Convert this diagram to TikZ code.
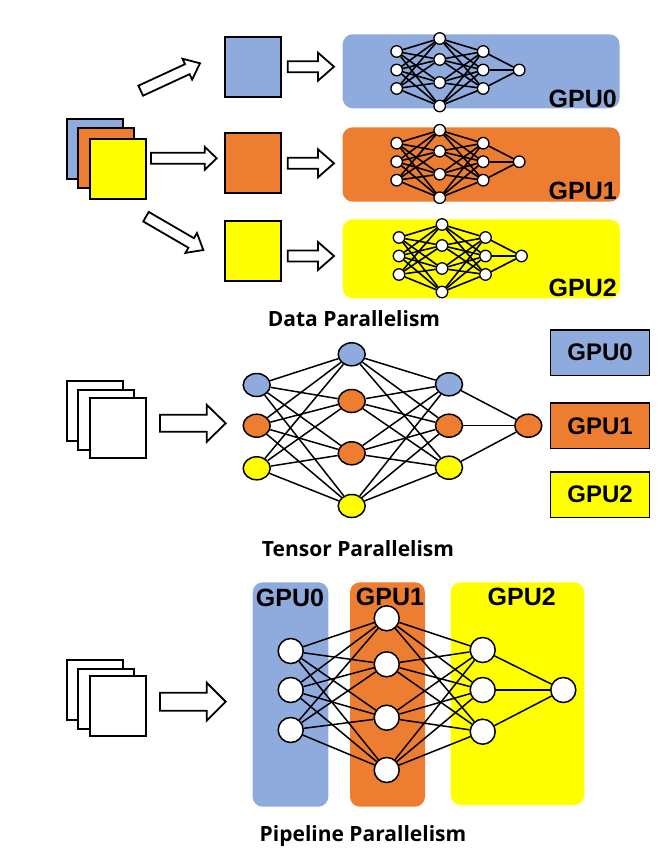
\documentclass[tikz,border=0pt]{standalone}
\usepackage{fontspec}
\setmainfont{Liberation Sans}
\newfontfamily\titlefont{Open Sans}
\usetikzlibrary{calc,shapes.geometric}
\definecolor{gblue}{HTML}{8FAADC}
\definecolor{gorange}{HTML}{ED7D31}
\definecolor{gyellow}{HTML}{FFFF00}
\pgfdeclarelayer{back}
\pgfdeclarelayer{mid}
\pgfsetlayers{back,mid,main}
% #1 tail, #2 tip, #3 shaft half width, #4 head half width, #5 head length
\newcommand\blockarrow[5]{%
  \coordinate (ba-neck) at ($(#2)!#5!(#1)$);
  \draw[barrow] ($(#1)!#3!90:(#2)$) -- ($(ba-neck)!#3!90:(#2)$) -- ($(ba-neck)!#4!90:(#2)$)
    -- (#2) -- ($(ba-neck)!#4!-90:(#2)$) -- ($(ba-neck)!#3!-90:(#2)$) -- ($(#1)!#3!-90:(#2)$) -- cycle;
}
\tikzset{
  sq/.style={draw, line width=2pt, minimum width=56pt, minimum height=60pt, inner sep=0pt},
  gbox/.style={rounded corners=10pt, inner sep=0pt},
  tiny/.style={circle, draw, fill=white, line width=1.3pt, minimum size=11.5pt, inner sep=0pt},
  edge/.style={line width=1.6pt},
  tedge/.style={line width=1.5pt},
  tnode/.style={ellipse, draw, line width=1.5pt, minimum width=27pt, minimum height=23pt, inner sep=0pt},
  pnode/.style={circle, draw, fill=white, line width=1.5pt, minimum size=25pt, inner sep=0pt},
  gpulabel/.style={font=\bfseries\fontsize{25}{25}\selectfont, inner sep=0pt},
  legendbox/.style={draw, line width=1.5pt, minimum width=98.6pt, minimum height=45.5pt, inner sep=0pt, font=\bfseries\fontsize{24}{24}\selectfont},
  title/.style={font=\titlefont\bfseries\fontsize{21}{21}\selectfont, inner sep=0pt, anchor=base},
  barrow/.style={draw, fill=white, line width=1.8pt, line join=miter}
}
\begin{document}
\begin{tikzpicture}[x=1pt,y=-1pt]
\useasboundingbox (0,0) rectangle (668,857);

%% ===================== Data parallelism =====================
% stacked input squares
\node[sq, fill=gblue] (ds0) at (95.3,148.5) {};
\node[sq, fill=gorange] (ds1) at (105.5,157.5) {};
\node[sq, fill=gyellow] (ds2) at (118.3,169.3) {};
% split squares
\node[sq, fill=gblue] (q0) at (252.5,67.2) {};
\node[sq, fill=gorange] (q1) at (252.5,162.5) {};
\node[sq, fill=gyellow] (q2) at (252.5,251.4) {};
% block arrows
\coordinate (a1t) at (140.7,90.7);  \coordinate (a1h) at (200,63.3);
\coordinate (a2t) at (151,158.3);   \coordinate (a2h) at (216.7,158.3);
\coordinate (a3t) at (146,216.7);   \coordinate (a3h) at (203.3,250);
\blockarrow{a1t}{a1h}{5.5pt}{11.5pt}{14pt}
\blockarrow{a2t}{a2h}{5.5pt}{11.5pt}{12pt}
\blockarrow{a3t}{a3h}{5.5pt}{11.5pt}{14pt}
\foreach \k/\y in {0/66.7,1/163.3,2/256}{
  \coordinate (r\k t) at (287.7,\y); \coordinate (r\k h) at (334,\y);
  \blockarrow{r\k t}{r\k h}{5.5pt}{14pt}{16pt}
}
% GPU boxes
\begin{pgfonlayer}{back}
\node[gbox, fill=gblue, minimum width=276.8pt, minimum height=74pt] (box0) at (481.1,71.3) {};
\node[gbox, fill=gorange, minimum width=277.3pt, minimum height=74.4pt] (box1) at (481.3,164.5) {};
\node[gbox, fill=gyellow, minimum width=277.3pt, minimum height=79pt] (box2) at (481.3,258.8) {};
\end{pgfonlayer}
\node[gpulabel, anchor=base east] (l0) at (617,107) {GPU0};
\node[gpulabel, anchor=base east] (l1) at (617,199.5) {GPU1};
\node[gpulabel, anchor=base east] (l2) at (617,296) {GPU2};
% small networks
\foreach \k/\ox/\oy in {0/396.7/70,1/396.7/161.7,2/399/256}{
  \begin{scope}[shift={(\ox,\oy)}]
    \foreach \i/\dy in {1/-18.5,2/0,3/18.5} \node[tiny] (a\k\i) at (0,\dy) {};
    \foreach \i/\dy in {1/-31.5,2/-10.5,3/12.5,4/36} \node[tiny] (b\k\i) at (43,\dy) {};
    \foreach \i/\dy in {1/-18.5,2/0,3/18.5} \node[tiny] (c\k\i) at (86.5,\dy) {};
    \node[tiny] (d\k) at (122.5,0) {};
  \end{scope}
  \begin{pgfonlayer}{mid}
    \foreach \i in {1,2,3}{
      \foreach \j in {1,2,3,4}{
        \draw[edge] (a\k\i) -- (b\k\j);
        \draw[edge] (b\k\j) -- (c\k\i);
      }
      \draw[edge] (c\k\i) -- (d\k);
    }
  \end{pgfonlayer}
}
\node[title] (t-data) at (354,326.7) {Data Parallelism};

%% ===================== Tensor parallelism =====================
\node[sq, fill=white] (ts0) at (95.3,411.4) {};
\node[sq, fill=white] (ts1) at (105.5,420) {};
\node[sq, fill=white] (ts2) at (117.9,428) {};
\coordinate (tat) at (160,423.3); \coordinate (tah) at (225.7,423.3);
\blockarrow{tat}{tah}{8.5pt}{18.5pt}{19pt}
\foreach \i/\y/\c in {1/385/gblue,2/425.7/gorange,3/468.3/gyellow}
  \node[tnode, fill=\c] (t1\i) at (256.7,\y) {};
\foreach \i/\y/\c in {1/354.3/gblue,2/401/gorange,3/453.3/gorange,4/506/gyellow}
  \node[tnode, fill=\c] (t2\i) at (351.7,\y) {};
\foreach \i/\y/\c in {1/384.3/gblue,2/425.7/gorange,3/467.7/gyellow}
  \node[tnode, fill=\c] (t3\i) at (449,\y) {};
\node[tnode, fill=gorange] (tout) at (528.3,425.7) {};
\begin{pgfonlayer}{mid}
  \foreach \i in {1,2,3}{
    \foreach \j in {1,2,3,4}{
      \draw[tedge] (t1\i) -- (t2\j);
      \draw[tedge] (t2\j) -- (t3\i);
    }
    \draw[tedge] (t3\i) -- (tout);
  }
\end{pgfonlayer}
\node[legendbox, fill=gblue] (lg0) at (600,352.5) {GPU0};
\node[legendbox, fill=gorange] (lg1) at (600,425.8) {GPU1};
\node[legendbox, fill=gyellow] (lg2) at (600,494.5) {GPU2};
\node[title] (t-tensor) at (358,556.7) {Tensor Parallelism};

%% ===================== Pipeline parallelism =====================
\node[sq, fill=white] (ps0) at (95.3,690.4) {};
\node[sq, fill=white] (ps1) at (105.5,699.2) {};
\node[sq, fill=white] (ps2) at (117.9,706.4) {};
\coordinate (pat) at (160,701.7); \coordinate (pah) at (225.7,701.7);
\blockarrow{pat}{pah}{9pt}{19pt}{19pt}
\begin{pgfonlayer}{back}
\node[gbox, fill=gblue, minimum width=75.6pt, minimum height=224.4pt] (col0) at (290.5,694.5) {};
\node[gbox, fill=gorange, minimum width=75pt, minimum height=224.4pt] (col1) at (387.5,694.5) {};
\node[gbox, fill=gyellow, minimum width=133.6pt, minimum height=222.7pt] (col2) at (517.5,693.7) {};
\end{pgfonlayer}
\node[gpulabel, anchor=base] (pl0) at (290,606.7) {GPU0};
\node[gpulabel, anchor=base] (pl1) at (390,605) {GPU1};
\node[gpulabel, anchor=base] (pl2) at (521.7,605) {GPU2};
\foreach \i/\y in {1/651,2/690,3/730} \node[pnode] (p1\i) at (290.7,\y) {};
\foreach \i/\y in {1/618.3,2/664.3,3/717.7,4/770} \node[pnode] (p2\i) at (386.7,\y) {};
\foreach \i/\y in {1/650,2/690,3/731.7} \node[pnode] (p3\i) at (482.7,\y) {};
\node[pnode] (pout) at (563.3,690) {};
\begin{pgfonlayer}{mid}
  \foreach \i in {1,2,3}{
    \foreach \j in {1,2,3,4}{
      \draw[tedge] (p1\i) -- (p2\j);
      \draw[tedge] (p2\j) -- (p3\i);
    }
    \draw[tedge] (p3\i) -- (pout);
  }
\end{pgfonlayer}
\node[title] (t-pipe) at (363,841.7) {Pipeline Parallelism};
\end{tikzpicture}
\end{document}
